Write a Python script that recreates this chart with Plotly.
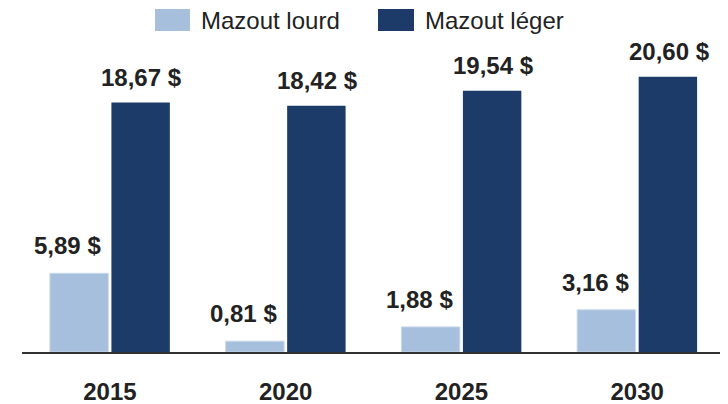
import plotly.graph_objects as go

years = ['2015', '2020', '2025', '2030']
mazout_lourd = [5.89, 0.81, 1.88, 3.16]
mazout_leger = [18.67, 18.42, 19.54, 20.60]
series_names = ['Mazout lourd', 'Mazout léger']

font_family = 'Liberation Sans, Arial, sans-serif'
light = '#a6bfdc'
dark = '#1d3b69'

fig = go.Figure()
fig.add_trace(go.Bar(x=years, y=mazout_lourd, name=series_names[0],
                     marker_color=light, marker_line_color='#c9d8ea', marker_line_width=1))
fig.add_trace(go.Bar(x=years, y=mazout_leger, name=series_names[1],
                     marker_color=dark, marker_line_width=0))

# value labels above each bar (comma decimals)
def fmt(v):
    return f'{v:.2f} $'.replace('.', ',')

# years look numeric, so annotations use the category index
for vals, shift, lift in [(mazout_lourd, -42, 12), (mazout_leger, 32, 10)]:
    for i, v in enumerate(vals):
        fig.add_annotation(x=i, y=v, text=fmt(v), showarrow=False,
                           xshift=shift, yshift=lift, yanchor='bottom',
                           font=dict(size=24, weight='bold', color='#222222'))

# legend drawn by hand for the large swatches
for name, col, x0, x1, xt in [(series_names[0], light, 0.1892, 0.2390, 0.2532),
                              (series_names[1], dark, 0.5064, 0.5576, 0.5718)]:
    fig.add_shape(type='rect', xref='paper', yref='paper', x0=x0, x1=x1, y0=1.092, y1=1.167,
                  fillcolor=col, line=dict(width=0))
    fig.add_annotation(xref='paper', yref='paper', x=xt, y=1.126, text=name, showarrow=False,
                       xanchor='left', yanchor='middle', borderpad=0,
                       font=dict(size=24, color='#222222'))

# page body has an 8px margin, so the figure is 8px smaller than the window
fig.update_layout(
    width=720, height=396,
    margin=dict(l=14, r=3, t=50, b=52),
    barmode='group', bargap=0.3, bargroupgap=0.05,
    plot_bgcolor='white', paper_bgcolor='white',
    font=dict(family=font_family, color='#222222'),
    showlegend=False,
    xaxis=dict(type='category', range=[-0.5, 3.5], showline=True, linecolor='#333333',
               linewidth=2, ticks='', tickfont=dict(size=24, weight='bold'),
               ticklabelstandoff=17, showgrid=False, automargin=False),
    yaxis=dict(range=[0, 22], visible=False, showgrid=False, zeroline=False, automargin=False),
)

fig.write_html('out.html')
